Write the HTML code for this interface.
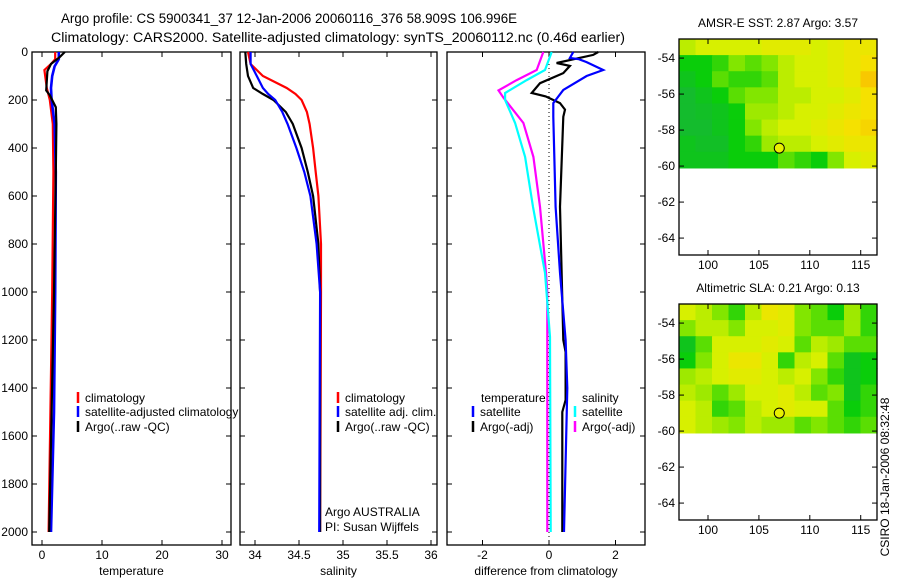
<!DOCTYPE html>
<html><head><meta charset="utf-8"><style>
body{margin:0;background:#fff;}
svg{display:block;font-family:"Liberation Sans",sans-serif;}
text{font-size:12px;fill:#000;}
</style></head><body>
<svg id="c" width="900" height="580" viewBox="0 0 900 580">
<text x="61" y="23" style="font-size:13.5px" textLength="456" lengthAdjust="spacingAndGlyphs">Argo profile: CS 5900341_37 12-Jan-2006 20060116_376 58.909S 106.996E</text>
<text x="51" y="42" style="font-size:13.5px" textLength="574" lengthAdjust="spacingAndGlyphs">Climatology: CARS2000. Satellite-adjusted climatology: synTS_20060112.nc (0.46d earlier)</text>
</svg>
<script>
// ---- profile data ----
const depthTclim=[0,30,50,75,150,200,300,500,1000,1500,2000];
const tempClim=[2.2,2.2,1.5,0.4,0.8,1.3,1.8,1.9,1.7,1.4,1.1];
const depthTsat=[0,30,60,100,150,200,300,500,1000,1500,2000];
const tempSat=[2.8,2.8,2.1,1.7,1.5,1.6,2.1,2.3,2.2,2.0,1.5];
const depthTargo=[0,20,50,80,160,180,230,300,500,1000,1500,2000];
const tempArgo=[3.8,3.0,1.5,0.9,0.7,1.3,2.3,2.4,2.3,2.0,1.6,1.2];
const depthS=[0,50,100,150,175,200,250,300,400,500,600,800,1000,2000];
const salClim=[33.92,33.95,34.09,34.36,34.46,34.53,34.59,34.62,34.66,34.69,34.72,34.75,34.75,34.74];
const salSat=[33.95,33.95,34.02,34.09,34.15,34.23,34.31,34.37,34.47,34.56,34.63,34.70,34.74,34.73];
const salArgo=[33.89,33.9,33.92,33.98,34.09,34.21,34.35,34.43,34.53,34.6,34.66,34.72,34.74,34.74];
const depthDs=[0,75,117,171,200,296,437,645,920,1187,2000];
const dSalSat=[0.08,-0.12,-0.67,-1.32,-1.32,-1.02,-0.72,-0.48,-0.12,0.03,0.05];
const depthDsa=[0,75,117,160,190,296,437,645,920,1000,2000];
const dSalArgo=[-0.17,-0.37,-0.97,-1.52,-1.37,-0.77,-0.47,-0.27,-0.09,-0.05,-0.05];
const depthDt=[0,12,46,58,88,130,171,185,213,240,270,645,1200,1250,1450,1500,2000];
const dTempArgo=[1.48,1.33,0.23,0.63,0.43,-0.27,-0.52,-0.1,0.33,0.48,0.43,0.33,0.43,0.5,0.5,0.4,0.4];
const depthDts=[0,25,30,42,75,100,158,213,270,645,920,1200,1400,2000];
const dTempSat=[0.73,0.63,0.9,1.13,1.63,1.13,0.43,0.13,0.13,0.2,0.33,0.5,0.55,0.45];
const depthTicks=[0,200,400,600,800,1000,1200,1400,1600,1800,2000];
const tempTicks=[0,10,20,30];
const salTicks=[34,34.5,35,35.5,36];
const diffTicks=[-2,0,2];
// ---- map data (12 cols x 8 rows, 0=dark green .. 1=orange) ----
const sstGrid=[
[0.45,0.5,0.5,0.5,0.5,0.55,0.55,0.55,0.5,0.55,0.6,0.6],
[0.2,0.2,0.25,0.35,0.3,0.35,0.45,0.5,0.5,0.55,0.6,0.65],
[0.15,0.2,0.3,0.25,0.25,0.3,0.45,0.5,0.5,0.55,0.6,0.75],
[0.1,0.15,0.2,0.3,0.35,0.35,0.45,0.45,0.5,0.5,0.55,0.65],
[0.1,0.12,0.15,0.2,0.4,0.4,0.45,0.5,0.5,0.55,0.6,0.65],
[0.1,0.1,0.15,0.2,0.35,0.45,0.5,0.5,0.55,0.6,0.65,0.7],
[0.15,0.12,0.12,0.2,0.25,0.4,0.45,0.45,0.5,0.55,0.6,0.6],
[0.15,0.15,0.15,0.2,0.2,0.2,0.3,0.25,0.2,0.35,0.5,0.55]];
const slaGrid=[
[0.5,0.45,0.35,0.25,0.45,0.6,0.55,0.35,0.3,0.2,0.4,0.25],
[0.35,0.45,0.45,0.35,0.5,0.5,0.55,0.35,0.3,0.3,0.4,0.25],
[0.15,0.3,0.5,0.5,0.5,0.55,0.5,0.3,0.45,0.4,0.3,0.3],
[0.2,0.35,0.5,0.6,0.6,0.5,0.25,0.45,0.5,0.3,0.15,0.2],
[0.4,0.45,0.5,0.55,0.55,0.5,0.45,0.5,0.35,0.25,0.15,0.2],
[0.45,0.4,0.3,0.4,0.5,0.5,0.55,0.45,0.3,0.35,0.15,0.25],
[0.5,0.45,0.25,0.3,0.45,0.5,0.55,0.5,0.5,0.3,0.2,0.25],
[0.5,0.45,0.4,0.35,0.45,0.4,0.4,0.3,0.35,0.3,0.25,0.3]];
const latTicks=[-54,-56,-58,-60,-62,-64];
const lonTicks=[100,105,110,115];
const floatLon=107, floatLat=-59;

const svg=document.getElementById('c');
const NS='http://www.w3.org/2000/svg';
function mk(tag,attrs,parent){const e=document.createElementNS(NS,tag);for(const k in attrs)e.setAttribute(k,attrs[k]);(parent||svg).appendChild(e);return e;}
function txt(x,y,s,anchor,parent){const t=mk('text',{x:x,y:y,'text-anchor':anchor||'start'},parent);t.textContent=s;return t;}
const yD=d=>52+d*0.24;
const TOP=52,BOT=545;
function panel(name,x0,x1,xs,xticks,label,showY){
  const g=mk('g',{});
  
  
  const r=mk('rect',{x:x0,y:TOP,width:x1-x0,height:BOT-TOP,fill:'#fff',stroke:'#000','stroke-width':1.3},g);
  
  
  depthTicks.forEach(d=>{const y=yD(d);
    mk('line',{x1:x0,x2:x0+5,y1:y,y2:y,stroke:'#000'},g);mk('line',{x1:x1-5,x2:x1,y1:y,y2:y,stroke:'#000'},g);
    if(showY){const t=txt(x0-4,y+4,String(d),'end',g);}});
  xticks.forEach(v=>{const x=xs(v);
    mk('line',{x1:x,x2:x,y1:TOP,y2:TOP+5,stroke:'#000'},g);mk('line',{x1:x,x2:x,y1:BOT-5,y2:BOT,stroke:'#000'},g);
    const t=txt(x,559,String(v),'middle',g);});
  const l=txt((x0+x1)/2,575,label,'middle',g);
  
  
  return g;
}
function series(name,g,xs,vals,deps,color,w){
  const pts=vals.map((v,i)=>xs(v).toFixed(1)+','+yD(deps[i]).toFixed(1)).join(' ');
  const p=mk('polyline',{points:pts,fill:'none',stroke:color,'stroke-width':w||2.2},g);
  
  
}
function legend(g,x,y,color,label){
  mk('line',{x1:x,x2:x,y1:y-10,y2:y+1,stroke:color,'stroke-width':2.5},g);
  const t=txt(x+7,y,label,'start',g);
  
  
}
// Panel 1 temperature
const xT=v=>42+6*v;
const g1=panel('temperature-panel',32,231,xT,tempTicks,'temperature',true);
series('temp-climatology',g1,xT,tempClim,depthTclim,'#f00');
series('temp-satellite',g1,xT,tempSat,depthTsat,'#00f',2.6);
series('temp-argo',g1,xT,tempArgo,depthTargo,'#000');
legend(g1,78,402,'#f00','climatology');
legend(g1,78,416,'#00f','satellite-adjusted climatology');
legend(g1,78,431,'#000','Argo(..raw -QC)');
// Panel 2 salinity
const xS=v=>255+88*(v-34);
const g2=panel('salinity-panel',240,437,xS,salTicks,'salinity',false);
series('sal-climatology',g2,xS,salClim,depthS,'#f00');
series('sal-argo',g2,xS,salArgo,depthS,'#000');
series('sal-satellite',g2,xS,salSat,depthS,'#00f');
legend(g2,338,402,'#f00','climatology');
legend(g2,338,416,'#00f','satellite adj. clim.');
legend(g2,338,431,'#000','Argo(..raw -QC)');
let t1=txt(325,516,'Argo AUSTRALIA','start',g2);
let t2=txt(325,531,'PI: Susan Wijffels','start',g2);
// Panel 3 difference
const xDf=v=>549+33.25*v;
const g3=panel('difference-panel',447,645,xDf,diffTicks,'difference from climatology',false);
mk('line',{x1:xDf(0),x2:xDf(0),y1:TOP,y2:BOT,stroke:'#000','stroke-dasharray':'1,3'},g3);
series('diff-sal-argo',g3,xDf,dSalArgo,depthDsa,'#f0f');
series('diff-sal-satellite',g3,xDf,dSalSat,depthDs,'#0ff');
series('diff-temp-argo',g3,xDf,dTempArgo,depthDt,'#000');
series('diff-temp-satellite',g3,xDf,dTempSat,depthDts,'#00f');
let t3=txt(481,402,'temperature','start',g3);
let t4=txt(582,402,'salinity','start',g3);
legend(g3,473,416,'#00f','satellite');
legend(g3,473,431,'#000','Argo(-adj)');
legend(g3,575,416,'#0ff','satellite');
legend(g3,575,431,'#f0f','Argo(-adj)');
// Maps
const stops=[[0,[30,170,80]],[0.2,[10,205,10]],[0.35,[130,230,0]],[0.5,[215,240,0]],[0.65,[245,225,0]],[0.85,[250,175,0]],[1,[240,130,0]]];
function col(v){for(let i=1;i<stops.length;i++){if(v<=stops[i][0]){const a=stops[i-1],b=stops[i],f=(v-a[0])/(b[0]-a[0]);return 'rgb('+a[1].map((c,k)=>Math.round(c+(b[1][k]-c)*f)).join(',')+')';}}return 'rgb(240,130,0)';}
function map(name,top,title,grid){
  const L=679,R=877,B=top+216;
  const xL=lon=>L+(lon-97.15)*(198/19.45);
  const yL=lat=>top+(-52.94-lat)*18;
  const g=mk('g',{});
  
  
  const tt=txt(778,top-12,title,'middle',g);
  
  
  const rows=grid.length,cols=grid[0].length;
  const dataBot=yL(-60.1);
  const cw=(R-L)/cols,ch=(dataBot-top)/rows;
  grid.forEach((row,r)=>row.forEach((v,c)=>{
    const cell=mk('rect',{x:L+c*cw,y:top+r*ch,width:cw+0.6,height:ch+0.6,fill:col(v)},g);
    
    
  }));
  const fr=mk('rect',{x:L,y:top,width:R-L,height:B-top,fill:'none',stroke:'#000','stroke-width':1.3},g);
  
  
  latTicks.forEach(lat=>{const y=yL(lat);
    mk('line',{x1:L,x2:L+5,y1:y,y2:y,stroke:'#000'},g);mk('line',{x1:R-5,x2:R,y1:y,y2:y,stroke:'#000'},g);
    const t=txt(L-4,y+4,String(lat),'end',g);});
  lonTicks.forEach(lon=>{const x=xL(lon);
    mk('line',{x1:x,x2:x,y1:top,y2:top+5,stroke:'#000'},g);mk('line',{x1:x,x2:x,y1:B-5,y2:B,stroke:'#000'},g);
    const t=txt(x,B+14,String(lon),'middle',g);});
  const m=mk('circle',{cx:xL(floatLon),cy:yL(floatLat),r:5,fill:'#e8f000',stroke:'#000','stroke-width':1},g);
  
  
}
map('sst-map',39,'AMSR-E SST: 2.87 Argo: 3.57',sstGrid);
map('sla-map',304,'Altimetric SLA: 0.21 Argo: 0.13',slaGrid);
const cs=txt(0,0,'CSIRO 18-Jan-2006 08:32:48','middle');
cs.setAttribute('transform','translate(889,477) rotate(-90)');


</script>
</body></html>
